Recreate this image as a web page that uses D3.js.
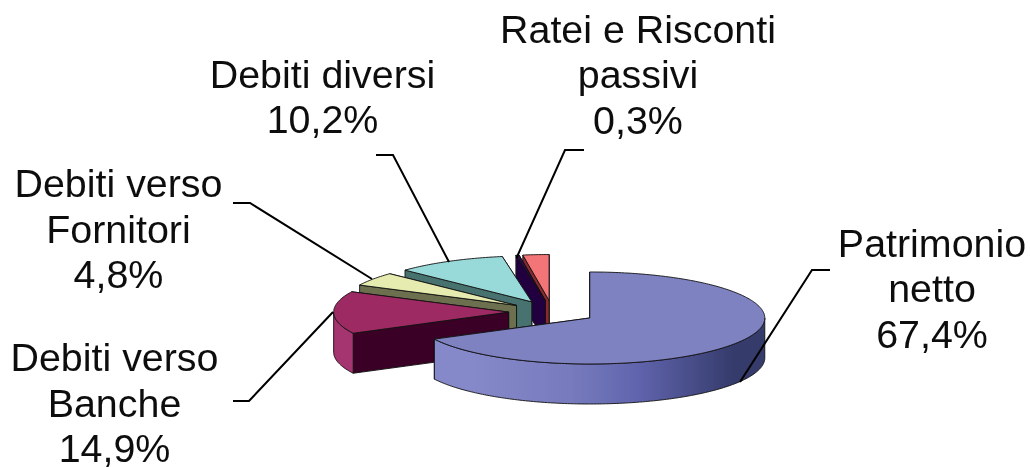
<!DOCTYPE html>
<html>
<head>
<meta charset="utf-8">
<script src="https://cdn.jsdelivr.net/npm/d3@7"></script>
<style>
  html, body { margin: 0; background: #fff; }
  svg { display: block; }
  text { font-family: "Liberation Sans", Arial, sans-serif; font-size: 39.4px; fill: #111; text-anchor: middle; }
</style>
</head>
<body>
<svg id="chart" width="1030" height="467"></svg>
<script>
// ── Data ───────────────────────────────────────────────────────────────────
const categories = ["Patrimonio netto", "Debiti verso Banche", "Debiti verso Fornitori", "Debiti diversi", "Ratei e Risconti passivi", ""];
const values = [67.4, 14.9, 4.8, 10.2, 0.3, 2.4];
const valueLabels = ["67,4%", "14,9%", "4,8%", "10,2%", "0,3%", ""];

const topColors  = ["#7f82c1", "#9e2a63", "#e6ebb0", "#98dada", "#2a0a4a", "#f47577"];
const sideColors = ["#4a4e86", "#3a0426", "#6c6f50", "#47726f", "#23063f", "#8a2b2f"];
const rimColors  = ["#7f82c1", "#a5346f", "#e6ebb0", "#98dada", "#2a0a4a", "#f47577"];

// ── Layout ─────────────────────────────────────────────────────────────────
const cx = 552.4, cy = 312, rx = 175, ry = 46, depth = 40, explode = 0.25;

const x = d3.scaleLinear().domain([-1, 1]).range([cx - rx, cx + rx]);
const y = d3.scaleLinear().domain([-1, 1]).range([cy - ry, cy + ry]);

// label blocks: centre x, first baseline, line step
const labelLayout = [
  { lines: ["Patrimonio", "netto"], x: 932, y: 256.5 },
  { lines: ["Debiti verso", "Banche"], x: 114.5, y: 371 },
  { lines: ["Debiti verso", "Fornitori"], x: 118.5, y: 197 },
  { lines: ["Debiti diversi"], x: 322.5, y: 87.5 },
  { lines: ["Ratei e Risconti", "passivi"], x: 638, y: 42.5 },
];
const lineStep = 45.7;

const leaders = [
  [[830, 270], [812, 270], [740, 382]],
  [[233, 401], [249, 401], [333, 312]],
  [[233, 203], [250, 203], [372, 279]],
  [[376, 155], [393, 155], [449, 262]],
  [[584, 150], [565, 150], [516.5, 258]],
];

// ── Slices ─────────────────────────────────────────────────────────────────
const svg = d3.select("#chart");
const line = d3.line();
const arcs = d3.pie().sort(null).value(d => d)(values);

// point on the unit circle, angle 0 at the top and running clockwise
const pt = a => [x(Math.sin(a)), y(-Math.cos(a))];

function arcPoints(a0, a1) {
  const n = Math.max(2, Math.ceil((a1 - a0) * 60));
  return d3.range(n + 1).map(i => pt(a0 + (a1 - a0) * i / n));
}
const down = p => [p[0], p[1] + depth];

const defs = svg.append("defs");
const grad = defs.append("linearGradient").attr("id", "rim0")
  .attr("gradientUnits", "userSpaceOnUse")
  .attr("x1", 435).attr("x2", 765).attr("y1", 0).attr("y2", 0);
[[0, "#8589c9"], [0.3, "#777bbd"], [0.5, "#6064ad"], [0.68, "#464b85"], [0.8, "#343a6a"], [0.92, "#343a6a"], [1, "#555a8b"]]
  .forEach(([o, c]) => grad.append("stop").attr("offset", o).attr("stop-color", c));

const blur = defs.append("filter").attr("id", "soft");
blur.append("feGaussianBlur").attr("stdDeviation", 0.45);

const g = svg.append("g").attr("filter", "url(#soft)");
const faceStyle = s => s.attr("stroke", "#111").attr("stroke-width", 0.9).attr("stroke-linejoin", "round");

// paint from the back of the pie to the front
d3.range(arcs.length).reverse().forEach(i => {
  const d = arcs[i];
  const mid = (d.startAngle + d.endAngle) / 2;
  const dx = Math.sin(mid) * explode * rx, dy = -Math.cos(mid) * explode * ry;
  const slice = g.append("g").attr("transform", `translate(${dx},${dy})`);
  const apex = [cx, cy];

  // radial walls: end edge faces back on this pie, so it goes first
  [pt(d.endAngle), pt(d.startAngle)].forEach(p => {
    slice.append("path")
      .attr("d", line([apex, p, down(p), down(apex)]) + "Z")
      .attr("fill", sideColors[i])
      .call(faceStyle);
  });

  // outer wall, only the part turned to the viewer
  const from = Math.max(d.startAngle, Math.PI / 2), to = Math.min(d.endAngle, 3 * Math.PI / 2);
  if (to > from) {
    const rim = arcPoints(from, to);
    slice.append("path")
      .attr("d", line(rim.concat(rim.map(down).reverse())) + "Z")
      .attr("fill", i === 0 ? "url(#rim0)" : rimColors[i])
      .call(faceStyle);
  }

  // top face
  slice.append("path")
    .attr("d", line([apex].concat(arcPoints(d.startAngle, d.endAngle))) + "Z")
    .attr("fill", topColors[i])
    .call(faceStyle);
});

// ── Leader lines ───────────────────────────────────────────────────────────
g.selectAll("path.leader").data(leaders).join("path")
  .attr("class", "leader")
  .attr("d", d => line(d))
  .attr("fill", "none")
  .attr("stroke", "#000")
  .attr("stroke-width", 2);

// ── Labels ─────────────────────────────────────────────────────────────────
labelLayout.forEach((l, i) => {
  const t = svg.append("text").attr("filter", "url(#soft)");
  l.lines.concat(valueLabels[i]).forEach((s, k) => {
    t.append("tspan").attr("x", l.x).attr("y", l.y + k * lineStep).text(s);
  });
});
</script>
</body>
</html>
